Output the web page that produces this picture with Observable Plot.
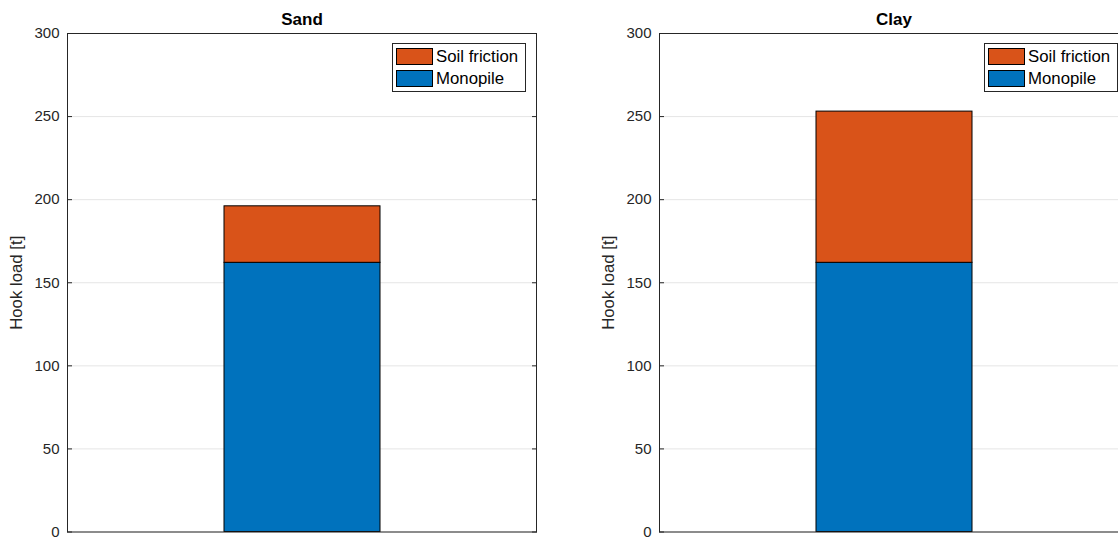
<!DOCTYPE html>
<html>
<head>
<meta charset="utf-8">
<script src="https://cdn.jsdelivr.net/npm/d3@7"></script>
<script src="https://cdn.jsdelivr.net/npm/@observablehq/plot@0.6"></script>
<style>
  html, body { margin: 0; padding: 0; background: #fff; }
  body { width: 1118px; height: 538px; overflow: hidden; position: relative;
         font-family: "Liberation Sans", Arial, Helvetica, sans-serif; }
  .panel { position: absolute; top: 0; width: 600px; height: 538px; }
  .panel svg { max-width: none !important; width: 600px; height: 538px; }
  .legend { position: absolute; top: 43px; width: 132px; height: 47px; background: #fff;
            border: 1px solid #262626; font-size: 16.8px; color: #000; box-sizing: content-box; }
  .legend .item { position: absolute; left: 3px; height: 17px; display: flex; align-items: center; white-space: nowrap; }
  .legend .sw { width: 35px; height: 15px; border: 1px solid #000; margin-right: 3px; flex: none; }
</style>
</head>
<body>
<script>
// Hook load components per soil type, in tonnes
const soils = ["Sand", "Clay"];
const components = ["Monopile", "Soil friction"];
const monopile = [162, 162];
const soilFriction = [34, 91];
const yTicks = [0, 50, 100, 150, 200, 250, 300];
const colors = ["#0072BD", "#D95319"];

const ink = "#262626";
const font = "Liberation Sans, Arial, Helvetica, sans-serif";

// Panel placement (left edge of each SVG on the page)
const panelLeft = [0, 592];

soils.forEach((soil, i) => {
  const rows = [
    {soil, component: "Monopile", value: monopile[i]},
    {soil, component: "Soil friction", value: soilFriction[i]}
  ];

  const chart = Plot.plot({
    width: 600,
    height: 538,
    marginLeft: 67,
    marginRight: 64,
    marginTop: 33,
    marginBottom: 6.5,
    style: {fontFamily: font, fontSize: "15px", color: ink, background: "transparent", overflow: "visible"},
    x: {type: "band", domain: [soil], paddingInner: 0, paddingOuter: 1, axis: null},
    y: {domain: [0, 300]},
    color: {domain: components, range: colors},
    marks: [
      Plot.gridY(yTicks, {stroke: ink, strokeOpacity: 0.12}),
      Plot.barY(rows, {
        x: "soil", y: "value", fill: "component",
        order: components, stroke: "#000", strokeWidth: 1
      }),
      Plot.frame({stroke: ink}),
      Plot.axisY({
        ticks: yTicks, tickSize: -5, tickPadding: 13,
        stroke: ink, fill: ink, fontSize: 15,
        label: null
      }),
      Plot.axisY({
        ticks: [], tickSize: 0, fill: ink, fontSize: 16.8,
        label: "Hook load [t]", labelAnchor: "center", labelArrow: "none", labelOffset: 57
      }),
      Plot.axisY({anchor: "right", ticks: yTicks, tickSize: -5, stroke: ink, fill: "none", label: null}),
      Plot.text([soil], {frameAnchor: "top", lineAnchor: "middle", dy: -14, fontWeight: "bold", fontSize: 17, fill: "#000"})
    ]
  });

  const panel = document.createElement("div");
  panel.className = "panel";
  panel.style.left = panelLeft[i] + "px";
  panel.appendChild(chart);
  document.body.appendChild(panel);

  // Legend box in the upper-right corner of the axes, top entry first
  const legend = document.createElement("div");
  legend.className = "legend";
  legend.style.left = (panelLeft[i] + 392) + "px";
  [["Soil friction", colors[1]], ["Monopile", colors[0]]].forEach(([name, c], k) => {
    const item = document.createElement("div");
    item.className = "item";
    item.style.top = (4 + k * 22) + "px";
    const sw = document.createElement("div");
    sw.className = "sw";
    sw.style.background = c;
    const label = document.createElement("span");
    label.textContent = name;
    item.appendChild(sw);
    item.appendChild(label);
    legend.appendChild(item);
  });
  document.body.appendChild(legend);
});
</script>
</body>
</html>
